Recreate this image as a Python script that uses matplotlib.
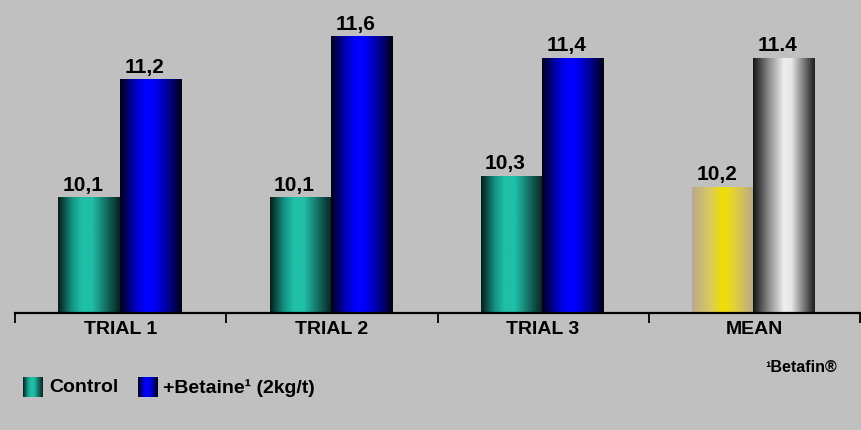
import numpy as np
import matplotlib.pyplot as plt
from matplotlib.colors import LinearSegmentedColormap

plt.rcParams['font.family'] = ['Liberation Sans', 'DejaVu Sans']
plt.rcParams['font.weight'] = 'bold'

categories = ['TRIAL 1', 'TRIAL 2', 'TRIAL 3', 'MEAN']
control = [10.1, 10.1, 10.3, 10.2]
betaine = [11.2, 11.6, 11.4, 11.4]
control_labels = ['10,1', '10,1', '10,3', '10,2']
betaine_labels = ['11,2', '11,6', '11,4', '11.4']

BG = '#c0c0c0'


def shade(name, stops):
    return LinearSegmentedColormap.from_list(name, stops)


# horizontal "cylinder" shading for the bars
teal = shade('teal', [(0, '#071c1a'), (0.22, '#149080'), (0.38, '#20bfa8'),
                      (0.55, '#20bfa8'), (0.8, '#13665c'), (1, '#08211f')])
blue = shade('blue', [(0, '#000018'), (0.22, '#0000b0'), (0.4, '#0000ff'),
                      (0.55, '#0000fa'), (0.8, '#00008a'), (1, '#000012')])
gold = shade('gold', [(0, '#b9a98d'), (0.3, '#dccb5c'), (0.5, '#f0e000'),
                      (0.65, '#e6d430'), (1, '#b8a88c')])
silver = shade('silver', [(0, '#141414'), (0.25, '#8a8a8a'), (0.5, '#eeeeee'),
                          (0.62, '#e8e8e8'), (0.85, '#6a6a6a'), (1, '#1c1c1c')])

control_cmaps = [teal, teal, teal, gold]
betaine_cmaps = [blue, blue, blue, silver]

grad = np.linspace(0, 1, 256).reshape(1, -1)

fig = plt.figure(figsize=(8.61, 4.30), dpi=100, facecolor=BG)
ax = fig.add_axes([15/861, 117/430, 845/861, 313/430])
ax.set_facecolor(BG)

x = np.arange(len(categories))
w = 0.29
bars_c = ax.bar(x - 0.005 - w/2, control, w, color='none')
bars_b = ax.bar(x - 0.005 + w/2, betaine, w, color='none')

for bars, cmaps, labels in [(bars_c, control_cmaps, control_labels),
                            (bars_b, betaine_cmaps, betaine_labels)]:
    for bar, cm, lab in zip(bars, cmaps, labels):
        x0 = bar.get_x()
        x1 = x0 + bar.get_width()
        top = bar.get_height()
        ax.imshow(grad, cmap=cm, extent=[x0, x1, 0, top], aspect='auto',
                  zorder=2, interpolation='bicubic')
        ax.annotate(lab, (x0 + bar.get_width()/2, top), xytext=(-6, 3),
                    textcoords='offset pixels', ha='center', va='bottom',
                    fontsize=15, fontweight='bold')

ax.set_xlim(-0.5, 3.5)
ax.set_ylim(9.03, 11.94)
for s in ['top', 'left', 'right']:
    ax.spines[s].set_visible(False)
ax.spines['bottom'].set_linewidth(1.6)
ax.spines['bottom'].set_zorder(3)
ax.set_yticks([])
ax.set_xticks(x, categories)
ax.set_xticks(np.arange(-0.5, 4, 1), minor=True)
ax.tick_params(axis='x', which='major', length=0, pad=6, labelsize=14)
ax.tick_params(axis='x', which='minor', length=7.5, width=1.3, direction='out')

# legend swatches
for left, cm in [(23, teal), (138, blue)]:
    sw = fig.add_axes([left/861, 1 - 397/430, 20/861, 20/430])
    sw.imshow(grad, cmap=cm, aspect='auto', interpolation='bicubic')
    sw.axis('off')
fig.text(49/861, 1 - 388/430, 'Control', va='center', ha='left', fontsize=14)
fig.text(163/861, 1 - 388/430, '+Betaine\u00b9 (2kg/t)', va='center', ha='left', fontsize=14)
fig.text(765/861, 1 - 368/430, '\u00b9Betafin\u00ae', va='center', ha='left', fontsize=11.5)

fig.savefig('out.png', dpi=100, facecolor=BG)
